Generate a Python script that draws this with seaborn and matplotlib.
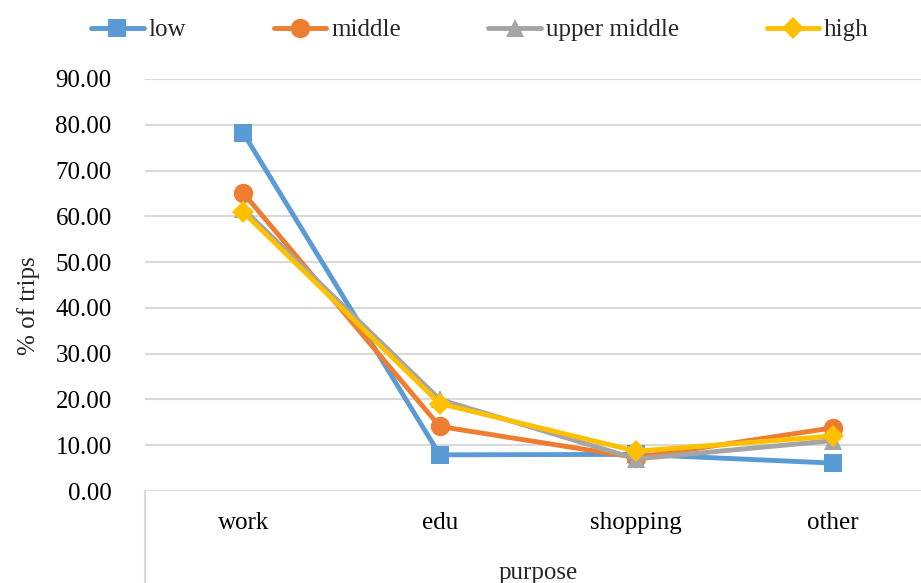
import matplotlib
matplotlib.use("Agg")
import matplotlib.pyplot as plt
from matplotlib.lines import Line2D
import pandas as pd
import seaborn as sns

# Share of trips (%) by purpose for each income group
purposes = ["work", "edu", "shopping", "other"]
groups = ["low", "middle", "upper middle", "high"]
low = [78.2, 7.9, 8.0, 6.1]
middle = [65.1, 14.1, 7.3, 13.8]
upper_middle = [61.6, 20.0, 7.0, 11.0]
high = [60.9, 19.1, 8.7, 12.0]

colors = ["#5B9BD5", "#ED7D31", "#A5A5A5", "#FFC000"]
marker_styles = ["s", "o", "^", "D"]
marker_sizes = [13.5, 14, 12.5, 11]

df = pd.DataFrame({
    "purpose": purposes * 4,
    "group": sum([[g] * len(purposes) for g in groups], []),
    "pct": low + middle + upper_middle + high,
})

sns.set_theme(style="white")
plt.rcParams["font.family"] = ["Liberation Serif", "DejaVu Serif"]

fig = plt.figure(figsize=(9.21, 5.83), dpi=100)
ax = fig.add_axes([145 / 921, 92 / 583, 786 / 921, 412 / 583])

for g, c, m, ms in zip(groups, colors, marker_styles, marker_sizes):
    sub = df[df["group"] == g]
    sns.lineplot(data=sub, x="purpose", y="pct", ax=ax, color=c, lw=3.5,
                 marker=m, markersize=ms, markeredgewidth=0, sort=False,
                 label=g, legend=False)

ax.set_xlim(-0.5, 3.5)
ax.set_ylim(0, 90)
ax.set_yticks(range(0, 91, 10))
ax.set_yticklabels([f"{v:.2f}" for v in range(0, 91, 10)])
ax.grid(axis="y", color="#D9D9D9", lw=1.5)
ax.set_axisbelow(True)
for s in ax.spines.values():
    s.set_visible(False)
ax.tick_params(axis="both", length=0, labelsize=18, colors="black")
ax.tick_params(axis="y", pad=24)
ax.tick_params(axis="x", pad=15)

# Category boundary line below the axis on the left
ax.add_line(Line2D([0, 0], [0, -0.3], transform=ax.transAxes, color="#D9D9D9",
                   lw=1.5, clip_on=False))

ax.set_xlabel("purpose", fontsize=18, labelpad=20)
ax.set_ylabel("% of trips", fontsize=18)
ax.yaxis.set_label_coords(-0.133, 0.45)

handles = [Line2D([], [], color=c, lw=3.5, marker=m, markersize=ms, markeredgewidth=0)
           for c, m, ms in zip(colors, marker_styles, marker_sizes)]
fig.legend(handles, groups, loc="center", bbox_to_anchor=(480 / 921, 1 - 30 / 583),
           ncol=4, frameon=False, fontsize=18, handlelength=2.1, handletextpad=0.2,
           columnspacing=3.5)

fig.savefig("out.png", dpi=100)
